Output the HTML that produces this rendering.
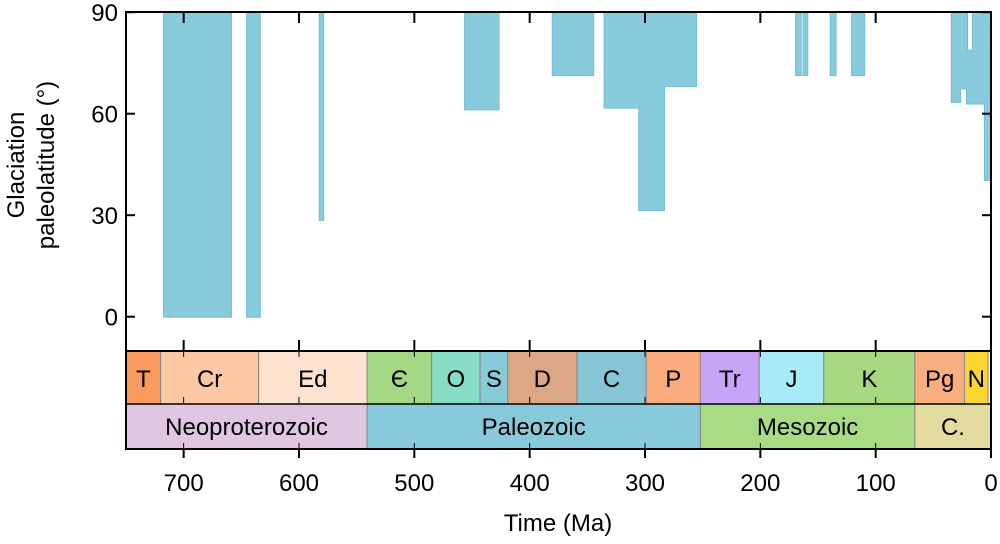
<!DOCTYPE html>
<html><head><meta charset="utf-8"><style>
body{margin:0;background:#fff;}
svg{display:block;font-family:"Liberation Sans",Arial,sans-serif;}
</style></head><body>
<svg id="chart" width="1000" height="544" viewBox="0 0 1000 544"></svg>
<script>
const bandStart=[717,645,582,456,380,335,305,283.5,169,162.5,139,120.4,34,26.8,20.8,15.6,5.2];
const bandEnd=[659,634,579,427,345,305,283.5,255.7,165,159.3,134.8,110,26.8,20.8,15.6,5.2,0];
const bandMin=[0,0,28.6,61.3,71.4,61.8,31.5,68.2,71.4,71.4,71.4,71.4,63.5,67.5,63,63,40.4];
const bandMax=[90,90,90,90,90,90,90,90,90,90,90,90,90,90,78.6,90,90];
const periodNames=["T","Cr","Ed","Є","O","S","D","C","P","Tr","J","K","Pg","N",""];
const periodStart=[750,720,635,541,485,443,419,359,299,252,201,145,66,23,2.6];
const periodEnd=[720,635,541,485,443,419,359,299,252,201,145,66,23,2.6,0];
const periodColors=["#f99a5e","#fdc9a4","#fde3cf","#a5d885","#88dcc6","#87cbd8","#dca784","#86c6d6","#f9ab7d","#c8a4f8","#a8eaf8","#a6d981","#f9ae80","#fcd630","#f9f7b0"];
const eraNames=["Neoproterozoic","Paleozoic","Mesozoic","C."];
const eraStart=[750,541,252,66];
const eraEnd=[541,252,66,0];
const eraColors=["#e0c6e1","#88cadb","#a8db84","#e3dba0"];
const xTicks=[700,600,500,400,300,200,100,0];
const yTicks=[0,30,60,90];

const X0=126,X1=991,Y0=12,PB=351,TB=404,EB=449;
const x=t=>X1-(X1-X0)*t/750;
const y=v=>316.7-(316.7-12.2)*v/90;
const svg=document.getElementById('chart');
const NS="http://www.w3.org/2000/svg";
function mk(tag,attrs,parent){const e=document.createElementNS(NS,tag);for(const k in attrs)e.setAttribute(k,attrs[k]);(parent||svg).appendChild(e);return e;}

const gs=mk('g',{});


const gb=mk('g',{});


for(let i=0;i<bandStart.length;i++){
  const a={x:x(bandStart[i]),y:y(bandMax[i]),width:x(bandEnd[i])-x(bandStart[i]),height:y(bandMin[i])-y(bandMax[i])};
  const o=mk('rect',Object.assign({fill:"none",stroke:"#72bcd8","stroke-width":2},a),gs);
  
  
  const r=mk('rect',Object.assign({fill:"#88cbdc"},a),gb);
  
  
}
for(let i=0;i<periodNames.length;i++){
  const r=mk('rect',{x:x(periodStart[i]),y:PB,width:x(periodEnd[i])-x(periodStart[i]),height:TB-PB,fill:periodColors[i],stroke:"#888","stroke-width":1});
  
  
  if(periodNames[i]){
    const t=mk('text',{x:(x(periodStart[i])+x(periodEnd[i]))/2,y:387,"text-anchor":"middle","font-size":24,fill:"#000"});
    t.textContent=periodNames[i];
    
    
  }
}
for(let i=0;i<eraNames.length;i++){
  const r=mk('rect',{x:x(eraStart[i]),y:TB,width:x(eraEnd[i])-x(eraStart[i]),height:EB-TB,fill:eraColors[i],stroke:"#888","stroke-width":1});
  
  
  const t=mk('text',{x:(x(eraStart[i])+x(eraEnd[i]))/2,y:435,"text-anchor":"middle","font-size":24,fill:"#000"});
  t.textContent=eraNames[i];
  
  
}
mk('rect',{x:X0,y:Y0,width:X1-X0,height:EB-Y0,fill:"none",stroke:"#000","stroke-width":2});
mk('line',{x1:X0,y1:PB,x2:X1,y2:PB,stroke:"#000","stroke-width":2});
mk('line',{x1:X0,y1:TB,x2:X1,y2:TB,stroke:"#000","stroke-width":1.5});
for(const v of xTicks){
  const px=x(v);
  mk('line',{x1:px,y1:Y0,x2:px,y2:Y0+11,stroke:"#000","stroke-width":2});
  mk('line',{x1:px,y1:PB-11,x2:px,y2:PB,stroke:"#000","stroke-width":2});
  mk('line',{x1:px,y1:PB,x2:px,y2:EB,stroke:"#000","stroke-width":1,"stroke-dasharray":"6,40"});
  mk('line',{x1:px,y1:EB,x2:px,y2:EB+9,stroke:"#000","stroke-width":2});
  const t=mk('text',{x:px,y:491,"text-anchor":"middle","font-size":24,fill:"#000"});
  t.textContent=v;
  
  
}
for(const v of yTicks){
  const py=y(v);
  mk('line',{x1:X0,y1:py,x2:X0+9,y2:py,stroke:"#000","stroke-width":2});
  mk('line',{x1:X1-9,y1:py,x2:X1,y2:py,stroke:"#000","stroke-width":2});
  const t=mk('text',{x:118,y:py+9,"text-anchor":"end","font-size":24,fill:"#000"});
  t.textContent=v;
  
  
}
const xt=mk('text',{x:558,y:531,"text-anchor":"middle","font-size":24,fill:"#000"});
xt.textContent="Time (Ma)";


const yt=mk('text',{transform:"translate(0,165) rotate(-90)","text-anchor":"middle","font-size":24,fill:"#000"});


const s1=mk('tspan',{x:0,y:24},yt);s1.textContent="Glaciation";
const s2=mk('tspan',{x:0,y:54},yt);s2.textContent="paleolatitude (°)";
</script>
</body></html>
